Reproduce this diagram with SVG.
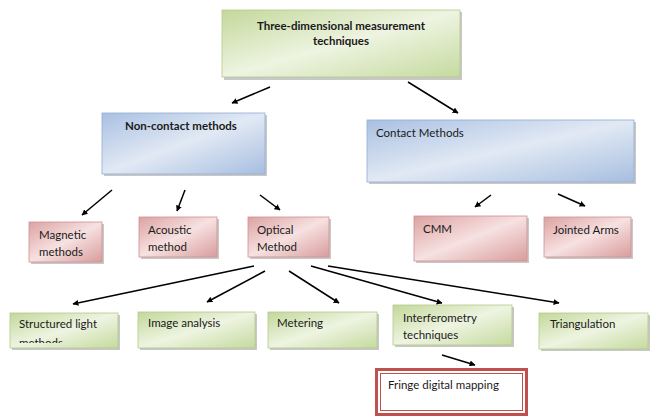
<svg xmlns="http://www.w3.org/2000/svg" width="658" height="418" viewBox="0 0 658 418">
  <defs>
    <linearGradient id="gGreen" x1="0" y1="0" x2="1" y2="1">
      <stop offset="0" stop-color="#c3d89a"/>
      <stop offset="0.5" stop-color="#eef4e1"/>
      <stop offset="1" stop-color="#c5da9e"/>
    </linearGradient>
    <linearGradient id="gBlue" x1="0" y1="0" x2="1" y2="1">
      <stop offset="0" stop-color="#a9c0e2"/>
      <stop offset="0.5" stop-color="#e1e9f4"/>
      <stop offset="1" stop-color="#a7bee0"/>
    </linearGradient>
    <linearGradient id="gRed" x1="0" y1="0" x2="1" y2="1">
      <stop offset="0" stop-color="#dca2a2"/>
      <stop offset="0.5" stop-color="#f7e1e1"/>
      <stop offset="1" stop-color="#d99c9c"/>
    </linearGradient>
    <marker id="ah" viewBox="0 0 10 10" refX="9" refY="5" markerWidth="6" markerHeight="6" orient="auto" markerUnits="userSpaceOnUse">
      <path d="M0,0 L10,5 L0,10 z" fill="#000"/>
    </marker>
    <!-- second line of the structured-light label is cut off by the box -->
    <clipPath id="clipStruct"><rect x="10" y="313" width="108" height="30"/></clipPath>
  </defs>
  <style>
    .shadow { fill: #9a9a9a; opacity: 0.55; }
    .green { fill: url(#gGreen); stroke: #b5c98c; stroke-width: 0.8; }
    .blue { fill: url(#gBlue); stroke: #94acd2; stroke-width: 0.8; }
    .red { fill: url(#gRed); stroke: #cf9090; stroke-width: 0.8; }
    .t { font-family: Lato, "Noto Sans", "Liberation Sans", sans-serif; font-size: 11.5px; fill: #1a1a1a; }
    .b { font-weight: bold; }
    .conn line { stroke: #000; stroke-width: 1.5; marker-end: url(#ah); }
  </style>
  <rect width="658" height="418" fill="#ffffff"/>

  <!-- root -->
  <g id="root">
    <rect class="shadow" x="224" y="12" width="238" height="68"/>
    <rect class="green" x="222" y="10" width="238" height="67"/>
    <text class="t b" x="341" y="30" text-anchor="middle">Three-dimensional measurement</text>
    <text class="t b" x="341" y="45" text-anchor="middle">techniques</text>
  </g>

  <g id="noncontact">
    <rect class="shadow" x="104" y="115" width="163" height="61"/>
    <rect class="blue" x="102" y="113" width="163" height="61"/>
    <text class="t b" x="125" y="130">Non-contact methods</text>
  </g>

  <g id="contact">
    <rect class="shadow" x="369" y="122" width="267" height="62"/>
    <rect class="blue" x="367" y="120" width="267" height="62"/>
    <text class="t" x="376" y="137">Contact Methods</text>
  </g>

  <g id="magnetic">
    <rect class="shadow" x="31" y="224" width="73" height="40"/>
    <rect class="red" x="29" y="222" width="73" height="40"/>
    <text class="t" x="39" y="239">Magnetic</text>
    <text class="t" x="39" y="256">methods</text>
  </g>

  <g id="acoustic">
    <rect class="shadow" x="141" y="219" width="78" height="40"/>
    <rect class="red" x="139" y="217" width="78" height="40"/>
    <text class="t" x="148" y="234">Acoustic</text>
    <text class="t" x="148" y="251">method</text>
  </g>

  <g id="optical">
    <rect class="shadow" x="250" y="219" width="81" height="40"/>
    <rect class="red" x="248" y="217" width="81" height="40"/>
    <text class="t" x="257" y="234">Optical</text>
    <text class="t" x="257" y="251">Method</text>
  </g>

  <g id="cmm">
    <rect class="shadow" x="416" y="218" width="113" height="45"/>
    <rect class="red" x="414" y="216" width="113" height="45"/>
    <text class="t" x="423" y="233">CMM</text>
  </g>

  <g id="jointed">
    <rect class="shadow" x="546" y="219" width="87" height="40"/>
    <rect class="red" x="544" y="217" width="87" height="40"/>
    <text class="t" x="553" y="234">Jointed Arms</text>
  </g>

  <g id="structured">
    <rect class="shadow" x="12" y="315" width="108" height="35"/>
    <rect class="green" x="10" y="313" width="108" height="35"/>
    <g clip-path="url(#clipStruct)">
      <text class="t" x="19" y="328">Structured light</text>
      <text class="t" x="19" y="347">methods</text>
    </g>
  </g>

  <g id="image">
    <rect class="shadow" x="140" y="314" width="117" height="36"/>
    <rect class="green" x="138" y="312" width="117" height="36"/>
    <text class="t" x="148" y="327">Image analysis</text>
  </g>

  <g id="metering">
    <rect class="shadow" x="270" y="314" width="109" height="36"/>
    <rect class="green" x="268" y="312" width="109" height="36"/>
    <text class="t" x="277" y="327">Metering</text>
  </g>

  <g id="interferometry">
    <rect class="shadow" x="395" y="307" width="119" height="40"/>
    <rect class="green" x="393" y="305" width="119" height="40"/>
    <text class="t" x="403" y="322">Interferometry</text>
    <text class="t" x="403" y="339">techniques</text>
  </g>

  <g id="triangulation">
    <rect class="shadow" x="541" y="315" width="109" height="36"/>
    <rect class="green" x="539" y="313" width="109" height="36"/>
    <text class="t" x="550" y="328">Triangulation</text>
  </g>

  <g id="fringe">
    <rect x="376.5" y="369.5" width="150" height="45" fill="#ffffff" stroke="#c0504d" stroke-width="3"/>
    <rect x="380.5" y="373.5" width="142" height="37" fill="none" stroke="#c0504d" stroke-width="1"/>
    <text class="t" x="388" y="389">Fringe digital mapping</text>
  </g>

  <g id="connectors" class="conn">
    <line x1="270" y1="87" x2="232" y2="103"/>
    <line x1="408" y1="82" x2="458" y2="113"/>
    <line x1="112" y1="190" x2="82" y2="215"/>
    <line x1="185" y1="190" x2="177" y2="211"/>
    <line x1="260" y1="195" x2="280" y2="210"/>
    <line x1="491" y1="195" x2="475" y2="207"/>
    <line x1="558" y1="194" x2="585" y2="206"/>
    <line x1="254" y1="266" x2="73" y2="304"/>
    <line x1="265" y1="271" x2="207" y2="302"/>
    <line x1="289" y1="271" x2="339" y2="303"/>
    <line x1="311" y1="266" x2="442" y2="303"/>
    <line x1="328" y1="266" x2="559" y2="303"/>
    <line x1="442" y1="355" x2="475" y2="365"/>
  </g>
</svg>
